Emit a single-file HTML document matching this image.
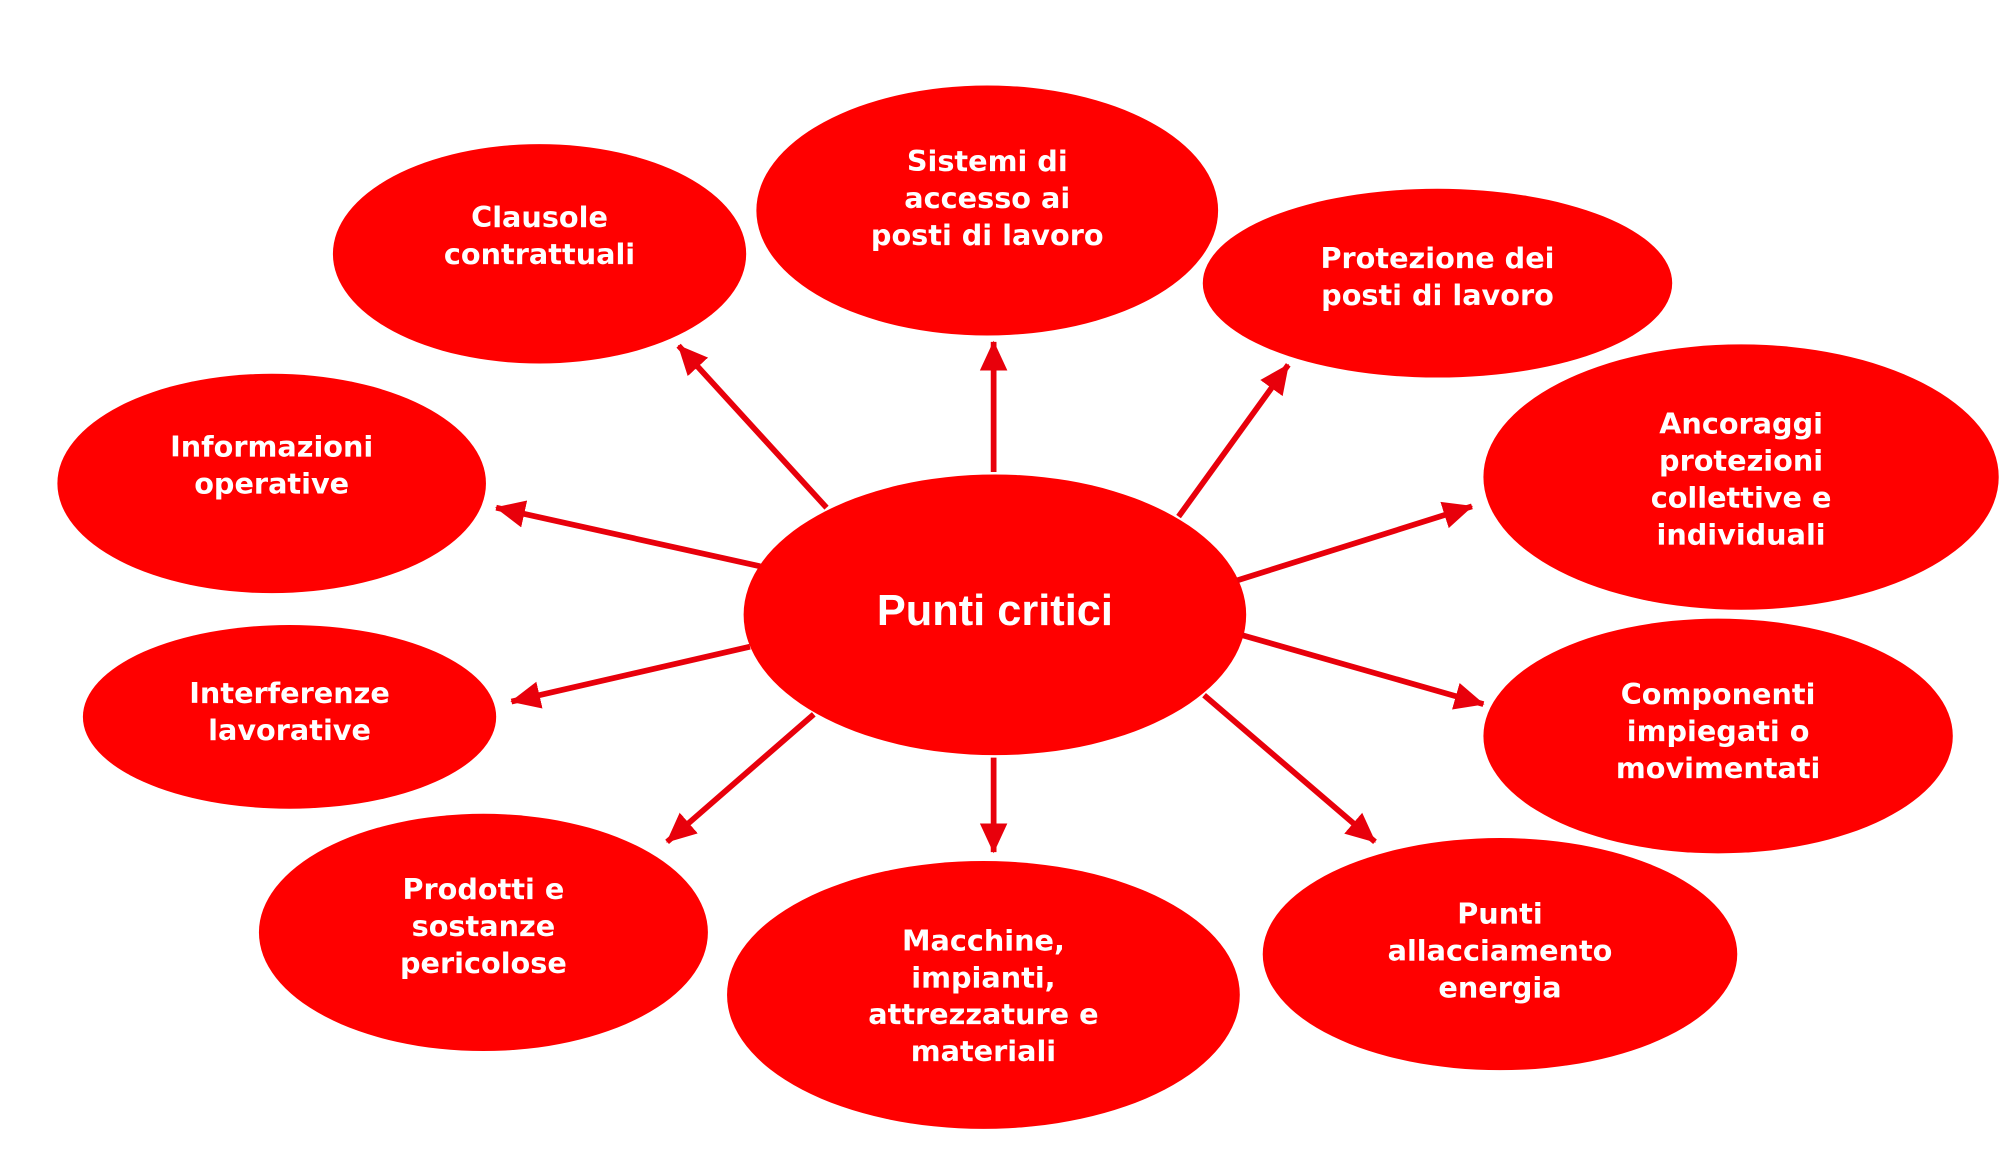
<!DOCTYPE html>
<html><head><meta charset="utf-8"><style>
html,body{margin:0;padding:0;background:#fff;}
svg{display:block}
text{font-family:"DejaVu Sans","Liberation Sans",sans-serif;font-weight:bold;fill:#fff;font-size:22.5px;text-anchor:middle}
</style></head><body>
<svg width="2000" height="1161" viewBox="0 0 1568 910.2" preserveAspectRatio="none" xmlns="http://www.w3.org/2000/svg">
<defs><marker id="a" markerWidth="6" markerHeight="6" refX="5" refY="3" orient="auto" markerUnits="strokeWidth"><path d="M0,0.6 L5.2,3 L0,5.4 Z" fill="#e8000b"/></marker></defs>
<g fill="#ff0000">
<ellipse cx="780" cy="482" rx="197" ry="110"/>
<ellipse cx="774" cy="165" rx="181" ry="98"/>
<ellipse cx="423" cy="199" rx="162" ry="86"/>
<ellipse cx="1127" cy="222" rx="184" ry="74"/>
<ellipse cx="213" cy="379" rx="168" ry="86"/>
<ellipse cx="1365" cy="374" rx="202" ry="104"/>
<ellipse cx="227" cy="562" rx="162" ry="72"/>
<ellipse cx="1347" cy="577" rx="184" ry="92"/>
<ellipse cx="379" cy="731" rx="176" ry="93"/>
<ellipse cx="771" cy="780" rx="201" ry="105"/>
<ellipse cx="1176" cy="748" rx="186" ry="91"/>
</g>
<g stroke="#e8000b" stroke-width="4.5" marker-end="url(#a)">
<line x1="779" y1="370" x2="779" y2="268"/>
<line x1="648" y1="398" x2="532" y2="271"/>
<line x1="924" y1="405" x2="1010" y2="286"/>
<line x1="596" y1="444" x2="389" y2="398"/>
<line x1="970" y1="455" x2="1154" y2="397"/>
<line x1="588" y1="507" x2="401" y2="550"/>
<line x1="974" y1="498" x2="1163" y2="552"/>
<line x1="638" y1="560" x2="523" y2="660"/>
<line x1="779" y1="594" x2="779" y2="668"/>
<line x1="944" y1="545" x2="1078" y2="660"/>
</g>
<text x="780" y="490" style="font-family:'Liberation Sans',sans-serif;font-size:34px;">Punti critici</text>
<text x="774" y="134">Sistemi di</text><text x="774" y="163">accesso ai</text><text x="774" y="192">posti di lavoro</text>
<text x="423" y="178">Clausole</text><text x="423" y="207">contrattuali</text>
<text x="1127" y="210">Protezione dei</text><text x="1127" y="239">posti di lavoro</text>
<text x="213" y="358">Informazioni</text><text x="213" y="387">operative</text>
<text x="1365" y="340">Ancoraggi</text><text x="1365" y="369">protezioni</text><text x="1365" y="398">collettive e</text><text x="1365" y="427">individuali</text>
<text x="227" y="551">Interferenze</text><text x="227" y="580">lavorative</text>
<text x="1347" y="552">Componenti</text><text x="1347" y="581">impiegati o</text><text x="1347" y="610">movimentati</text>
<text x="379" y="705">Prodotti e</text><text x="379" y="734">sostanze</text><text x="379" y="763">pericolose</text>
<text x="771" y="745">Macchine,</text><text x="771" y="774">impianti,</text><text x="771" y="803">attrezzature e</text><text x="771" y="832">materiali</text>
<text x="1176" y="724">Punti</text><text x="1176" y="753">allacciamento</text><text x="1176" y="782">energia</text>
</svg>
</body></html>
